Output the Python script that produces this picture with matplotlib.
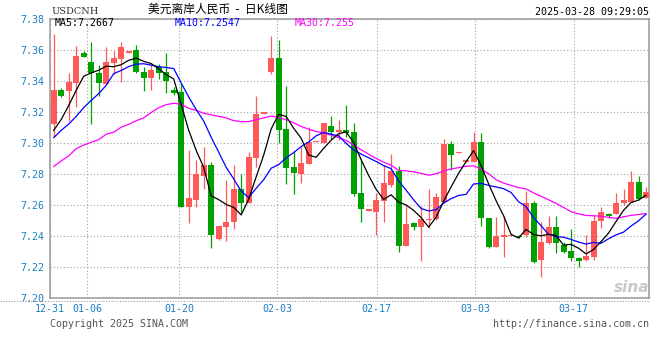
import numpy as np
import pandas as pd
import matplotlib
matplotlib.use("Agg")
import matplotlib.pyplot as plt
from matplotlib.lines import Line2D

# USDCNH daily candles, 12-31 .. 03-28
opens = [7.312, 7.334, 7.333, 7.3385, 7.358, 7.352, 7.345, 7.3376, 7.3513, 7.354,
         7.358, 7.3595, 7.3458, 7.3417, 7.3488, 7.3455, 7.3338, 7.3327, 7.2589, 7.263,
         7.2787, 7.2855, 7.2381, 7.2459, 7.2487, 7.2703, 7.2613, 7.2902, 7.3188, 7.3457,
         7.3545, 7.3087, 7.2843, 7.2797, 7.2862, 7.3003, 7.2999, 7.3106, 7.3068, 7.308,
         7.3068, 7.2677, 7.2563, 7.2555, 7.2626, 7.2727, 7.2819, 7.2336, 7.248, 7.2455,
         7.2502, 7.2506, 7.262, 7.299, 7.2936, 7.2875, 7.2877, 7.3005, 7.2516, 7.233,
         7.2394, 7.2401, 7.2399, 7.2405, 7.2609, 7.2244, 7.2356, 7.2459, 7.234, 7.2304,
         7.2255, 7.2244, 7.2266, 7.2495, 7.254, 7.254, 7.2613, 7.262, 7.2748, 7.2641]
highs = [7.370, 7.335, 7.345, 7.362, 7.359, 7.365, 7.350, 7.3616, 7.359, 7.365,
         7.359, 7.3627, 7.349, 7.351, 7.351, 7.358, 7.336, 7.338, 7.2956, 7.289,
         7.2973, 7.2877, 7.2463, 7.2759, 7.2855, 7.2797, 7.2941, 7.330, 7.3192, 7.3685,
         7.366, 7.3363, 7.2945, 7.2973, 7.310, 7.3010, 7.3128, 7.317, 7.3145, 7.3241,
         7.3128, 7.2898, 7.2568, 7.2673, 7.2855, 7.2926, 7.2849, 7.2598, 7.2491, 7.2592,
         7.2699, 7.2673, 7.3027, 7.3012, 7.2942, 7.2888, 7.307, 7.3063, 7.2516, 7.2523,
         7.2527, 7.2405, 7.2403, 7.269, 7.2626, 7.2491, 7.2527, 7.2529, 7.2362, 7.2442,
         7.2262, 7.2405, 7.2534, 7.2583, 7.2545, 7.2673, 7.2705, 7.2819, 7.2785, 7.2716]
lows = [7.304, 7.3295, 7.314, 7.323, 7.355, 7.312, 7.330, 7.337, 7.3445, 7.339,
        7.358, 7.345, 7.333, 7.334, 7.341, 7.332, 7.3306, 7.2587, 7.2484, 7.2587,
        7.270, 7.2323, 7.2373, 7.2369, 7.2444, 7.2545, 7.2613, 7.2844, 7.3188, 7.3445,
        7.2995, 7.2731, 7.2669, 7.2741, 7.2862, 7.3003, 7.2999, 7.3027, 7.3016, 7.3037,
        7.2656, 7.2491, 7.2563, 7.2405, 7.2491, 7.2712, 7.2298, 7.2333, 7.2437, 7.224,
        7.245, 7.2502, 7.262, 7.2823, 7.2936, 7.2875, 7.2877, 7.2463, 7.232, 7.233,
        7.2262, 7.2401, 7.2388, 7.2394, 7.2227, 7.2137, 7.235, 7.2288, 7.2288, 7.224,
        7.2201, 7.224, 7.2244, 7.2448, 7.2513, 7.254, 7.2598, 7.262, 7.263, 7.2641]
closes = [7.334, 7.330, 7.339, 7.356, 7.355, 7.345, 7.3385, 7.352, 7.3543, 7.3616,
          7.359, 7.3455, 7.3417, 7.347, 7.345, 7.340, 7.332, 7.2587, 7.2645, 7.280,
          7.2855, 7.2405, 7.2463, 7.2491, 7.2703, 7.2613, 7.2909, 7.3183, 7.3192, 7.3545,
          7.3085, 7.284, 7.2806, 7.287, 7.3005, 7.3008, 7.3128, 7.307, 7.308, 7.3063,
          7.2669, 7.257, 7.2568, 7.263, 7.2738, 7.2817, 7.2336, 7.2476, 7.2455, 7.2506,
          7.251, 7.2651, 7.299, 7.292, 7.2942, 7.2888, 7.3005, 7.2513, 7.233, 7.2399,
          7.2405, 7.2405, 7.2392, 7.2609, 7.2234, 7.2362, 7.2455, 7.2356, 7.2298, 7.2255,
          7.224, 7.227, 7.2497, 7.2555, 7.2527, 7.2613, 7.263, 7.2748, 7.2635, 7.2684]

# moving average values where the window reaches back before 12-31
ma5_head = [7.308, 7.315, 7.324, 7.3338]
ma10_head = [7.3033, 7.308, 7.312, 7.317, 7.3226, 7.3273, 7.3316, 7.337, 7.3445]
ma30_head = [7.2847, 7.2883, 7.2915, 7.2962, 7.2985, 7.3003, 7.302, 7.3055, 7.3068, 7.310,
             7.3118, 7.3142, 7.316, 7.3195, 7.3225, 7.3245, 7.3254, 7.3248, 7.3222, 7.3208,
             7.319, 7.318, 7.317, 7.316, 7.3142, 7.3136, 7.3136, 7.3148, 7.316]

tick_pos = [-0.5, 4.47, 16.74, 29.81, 43.07, 56.2, 69.33]
tick_labels = ["12-31", "01-06", "01-20", "02-03", "02-17", "03-03", "03-17"]
ma_labels = ["MA5:7.2667", "MA10:7.2547", "MA30:7.255"]

RED = "#FF5A5A"
GREEN = "#00A000"
BLUE_TXT = "#1B7FC4"
GRID = "#A0A0A0"

s = pd.Series(closes)
ma5 = s.rolling(5).mean().to_numpy()
ma5[:len(ma5_head)] = ma5_head
ma10 = s.rolling(10).mean().to_numpy()
ma10[:len(ma10_head)] = ma10_head
ma30 = s.rolling(30).mean().to_numpy()
ma30[:len(ma30_head)] = ma30_head

o = np.array(opens)
c = np.array(closes)
x = np.arange(len(closes))
up = c >= o
cols = np.where(up, RED, GREEN)
body_lo = np.minimum(o, c)
body_h = np.maximum(np.abs(c - o), 0.0007)

W, H = 660, 360
fig = plt.figure(figsize=(6.6, 3.6), dpi=100)
fig.patch.set_facecolor("white")

def px(xp, yp):
    return xp / W, 1 - yp / H

ax = fig.add_axes([50 / W, 1 - 298 / H, 599 / W, (298 - 18.5) / H])

ax.vlines(x, lows, highs, colors=cols, linewidth=0.9, zorder=2)
ax.bar(x, body_h, bottom=body_lo, width=0.8, color=cols, linewidth=0, zorder=3)

ax.plot(x, ma30, color="#FF00FF", lw=0.9, zorder=4)
ax.plot(x, ma10, color="#0000FF", lw=0.9, zorder=4)
ax.plot(x, ma5, color="#000000", lw=0.9, zorder=4)

ax.set_xlim(-0.5, 79.4)
ax.set_ylim(7.20, 7.38)
yt = np.arange(7.20, 7.3801, 0.02)
ax.set_yticks(yt)
ax.set_yticklabels([f"{v:.2f}" for v in yt])
ax.set_xticks(tick_pos)
ax.set_xticklabels(tick_labels)
ax.tick_params(length=0, colors=BLUE_TXT, labelsize=7.2)
ax.tick_params(axis="y", pad=4)
ax.tick_params(axis="x", pad=4)
for lab in ax.get_xticklabels() + ax.get_yticklabels():
    lab.set_family("DejaVu Sans Mono")
ax.grid(True, color=GRID, linestyle=(0, (1, 2)), linewidth=0.8, zorder=0)
ax.set_axisbelow(True)
for sp in ax.spines.values():
    sp.set_color("#999999")
    sp.set_linewidth(1.1)

mono = "DejaVu Sans Mono"
fig.text(*px(51.5, 11.5), "USDCNH", family="DejaVu Serif", fontsize=7, color="#333333",
         va="center", ha="left")
fig.text(*px(218, 9.5), "美元离岸人民币  -  日K线图", family=["Noto Sans CJK SC", "DejaVu Sans"],
         fontsize=8.5, color="black", va="center", ha="center")
fig.text(*px(649, 11.7), "2025-03-28 09:29:05", family=mono, fontsize=7.2,
         color="black", va="center", ha="right")
for lbl, xp, col in zip(ma_labels, [55, 174.3, 295], ["#000000", "#0000FF", "#FF00FF"]):
    fig.text(*px(xp, 23.5), lbl, family=mono, fontsize=7.1, color=col, va="center", ha="left")

fig.text(*px(50, 324), "Copyright 2025 SINA.COM", family=mono, fontsize=7.2,
         color="#555555", va="center", ha="left")
fig.text(*px(649, 324), "http://finance.sina.com.cn", family=mono, fontsize=7.2,
         color="#555555", va="center", ha="right")
fig.text(*px(632, 288), "sina", family="DejaVu Sans", fontsize=11, fontweight="bold",
         style="italic", color="#C8C8C8", va="center", ha="center", zorder=1)

fig.add_artist(Line2D([0, 650 / W], [1 - 300.5 / H] * 2, transform=fig.transFigure,
                      color="#999999", linestyle=(0, (1, 1.5)), linewidth=0.8))

fig.savefig("out.png", dpi=100)
